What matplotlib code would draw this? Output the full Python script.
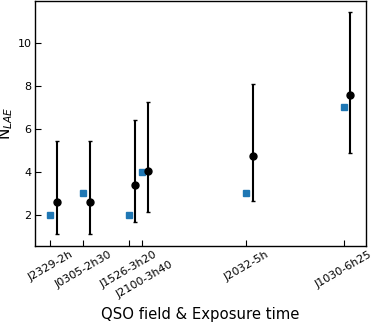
import numpy as np
import matplotlib
matplotlib.use("Agg")
import matplotlib.pyplot as plt

# exposure time position of each QSO field (hours)
field_labels = ["J2329-2h", "J0305-2h30", "J1526-3h20", "\nJ2100-3h40", "J2032-5h", "J1030-6h25"]
x_pos = np.array([2.0, 2.5, 3.2, 3.4, 5.0, 6.5])

# observed counts (blue squares)
n_obs = np.array([2, 3, 2, 4, 3, 7])

# expected counts with error range (black points)
n_exp = np.array([2.62, 2.62, 3.37, 4.03, 4.75, 7.56])
n_low = np.array([1.11, 1.11, 1.65, 2.12, 2.65, 4.87])
n_high = np.array([5.44, 5.44, 6.43, 7.23, 8.10, 11.43])
x_shift = 0.1

fig = plt.figure(figsize=(3.74, 3.22), dpi=100)
ax = fig.add_axes([0.094, 0.236, 0.884, 0.761])

ax.plot(x_pos, n_obs, "s", color="tab:blue", markersize=4.5, zorder=3)
ax.errorbar(x_pos + x_shift, n_exp, yerr=[n_exp - n_low, n_high - n_exp],
            fmt="o", color="black", markersize=5, elinewidth=1.5, capsize=1.6, capthick=1, zorder=4)

ax.set_xlim(1.765, 6.835)
ax.set_ylim(0.55, 11.95)
ax.set_yticks([2, 4, 6, 8, 10])
ax.set_xticks(x_pos)
ax.set_xticklabels(field_labels, rotation=30, ha="center", fontsize=8)
ax.tick_params(axis="both", direction="in", length=4, width=0.8, labelsize=8)
ax.tick_params(axis="y", pad=2.5)
ax.tick_params(axis="x", pad=2.5)

ax.set_xlabel("QSO field & Exposure time", fontsize=10.7, labelpad=5)
ax.set_ylabel(r"N$_{LAE}$", fontsize=11, labelpad=2)

for sp in ax.spines.values():
    sp.set_linewidth(1.0)

fig.savefig("out.png", dpi=100)
